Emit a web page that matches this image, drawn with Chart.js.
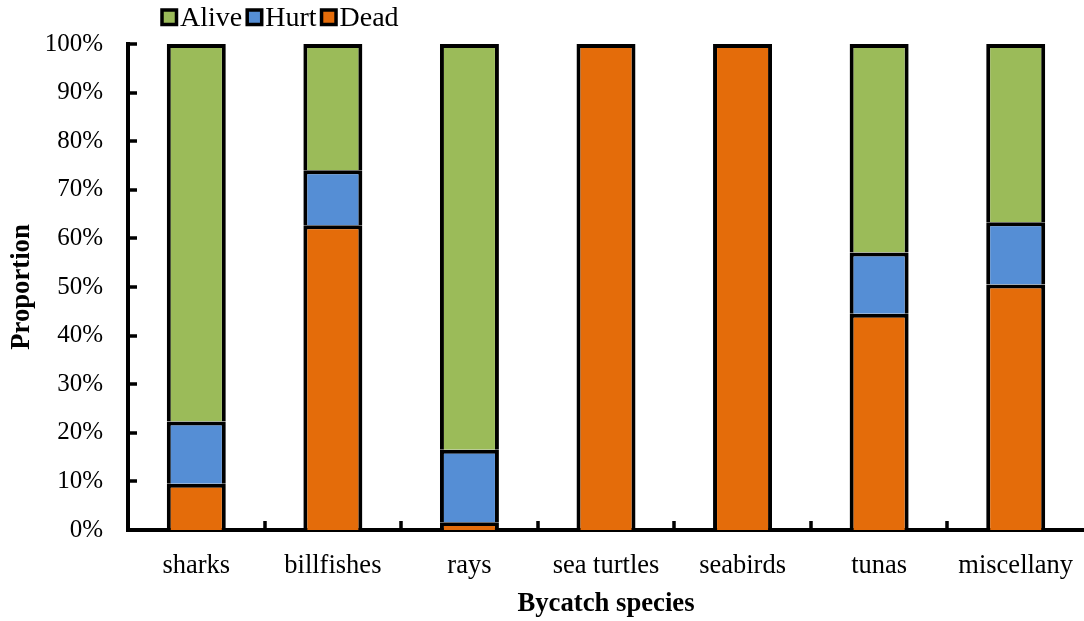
<!DOCTYPE html>
<html>
<head>
<meta charset="utf-8">
<script src="https://cdn.jsdelivr.net/npm/chart.js@4"></script>
<style>
html,body{margin:0;padding:0;background:#fff;}
canvas{display:block;}
</style>
</head>
<body>
<canvas id="c" width="1084" height="621"></canvas>
<script>
const categories = ["sharks", "billfishes", "rays", "sea turtles", "seabirds", "tunas", "miscellany"];
const deadValues  = [9.5, 62.7, 1.6, 100, 100, 44.5, 50.5];
const hurtValues  = [12.8, 11.3, 14.9, 0, 0, 12.6, 12.8];
const aliveValues = [77.7, 26.0, 83.5, 0, 0, 42.9, 36.7];
const yTickValues = [0, 10, 20, 30, 40, 50, 60, 70, 80, 90, 100];

const FONT = "'Times New Roman', 'Liberation Serif', serif";

const inwardTicks = {
  id: 'inwardTicks',
  afterDatasetsDraw(chart) {
    const ctx = chart.ctx;
    const x = chart.scales.x, y = chart.scales.y;
    ctx.save();
    ctx.strokeStyle = '#000';
    ctx.lineWidth = 3.5;
    ctx.beginPath();
    yTickValues.forEach(v => {
      const py = Math.round(y.getPixelForValue(v));
      ctx.moveTo(x.left, py);
      ctx.lineTo(x.left + 9, py);
    });
    const n = categories.length;
    for (let i = 1; i < n; i++) {
      const px = Math.round((x.getPixelForValue(i - 1) + x.getPixelForValue(i)) / 2);
      ctx.moveTo(px, y.bottom);
      ctx.lineTo(px, y.bottom - 9);
    }
    ctx.stroke();
    ctx.restore();
  }
};

// Legend drawn from the dataset labels/colours (top-left, Excel-like spacing)
const customLegend = {
  id: 'customLegend',
  afterDraw(chart) {
    const ctx = chart.ctx;
    const ds = chart.data.datasets.slice().reverse();
    let x = 162;
    const boxTop = 10, boxSize = 14.5;
    ctx.save();
    ctx.font = "28px " + FONT;
    ctx.textBaseline = 'alphabetic';
    ds.forEach(d => {
      ctx.fillStyle = d.backgroundColor;
      ctx.fillRect(x, boxTop, boxSize, boxSize);
      ctx.strokeStyle = '#000';
      ctx.lineWidth = 3.5;
      ctx.strokeRect(x, boxTop, boxSize, boxSize);
      const tx = x + boxSize + 3.5;
      ctx.fillStyle = '#000';
      ctx.fillText(d.label, tx, 26);
      x = tx + ctx.measureText(d.label).width + 5;
    });
    ctx.restore();
  }
};

new Chart(document.getElementById('c'), {
  type: 'bar',
  data: {
    labels: categories,
    datasets: [
      { label: 'Dead',  data: deadValues,  backgroundColor: '#E46C0A', borderColor: '#000', borderWidth: 4 },
      { label: 'Hurt',  data: hurtValues,  backgroundColor: '#558ED5', borderColor: '#000', borderWidth: 4 },
      { label: 'Alive', data: aliveValues, backgroundColor: '#9BBB59', borderColor: '#000', borderWidth: 4 }
    ]
  },
  options: {
    responsive: false,
    animation: false,
    devicePixelRatio: 1,
    layout: { padding: { top: 44, left: 0, right: 0, bottom: 0 } },
    datasets: { bar: { categoryPercentage: 1.0, barPercentage: 0.432 } },
    plugins: {
      legend: { display: false },
      tooltip: { enabled: false }
    },
    scales: {
      x: {
        stacked: true,
        offset: true,
        grid: { display: false, drawTicks: false },
        border: { display: true, color: '#000', width: 4 },
        ticks: { font: { family: FONT, size: 26.5 }, color: '#000', padding: 20, maxRotation: 0 },
        title: { display: true, text: 'Bycatch species', font: { family: FONT, size: 26.7, weight: 'bold' }, color: '#000', padding: { top: 0, bottom: 1 } },
        afterFit(scale) { scale.height = 91; scale.paddingLeft = 0; scale.paddingRight = 0; }
      },
      y: {
        stacked: true,
        min: 0,
        max: 100,
        grid: { display: false, drawTicks: false },
        border: { display: true, color: '#000', width: 4 },
        ticks: {
          stepSize: 10,
          font: { family: FONT, size: 25 },
          color: '#000',
          padding: 25,
          callback: v => v + '%'
        },
        title: { display: true, text: 'Proportion', font: { family: FONT, size: 26.7, weight: 'bold' }, color: '#000', padding: { top: 6, bottom: 0 } },
        afterFit(scale) { scale.width = 128; scale.paddingTop = 0; scale.paddingBottom = 0; }
      }
    }
  },
  plugins: [inwardTicks, customLegend]
});
</script>
</body>
</html>
